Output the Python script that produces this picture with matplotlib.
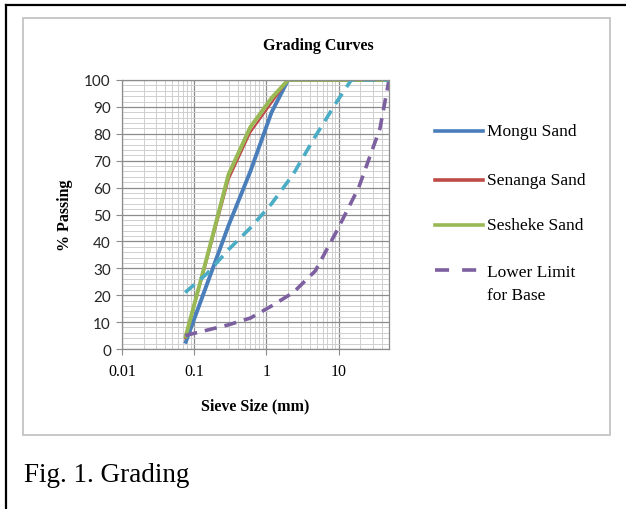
import matplotlib
matplotlib.use("Agg")
from matplotlib import pyplot as plt
from matplotlib.lines import Line2D
from matplotlib.patches import Rectangle
from matplotlib.ticker import LogLocator, MultipleLocator, FixedLocator
import numpy as np

# sieve sizes (mm) and % passing
sand_size = [0.075, 0.15, 0.3, 0.6, 1.18, 2.0, 5.0, 10.0, 20.0, 50.0]
mongu = [2, 24, 46, 66, 88, 100, 100, 100, 100, 100]
senanga = [4, 33, 63, 80.5, 91.5, 100, 100, 100, 100, 100]
sesheke = [4, 34, 65, 82.5, 93.3, 100, 100, 100, 100, 100]

limit_size = [0.075, 0.15, 0.3, 0.6, 1.18, 2.36, 4.75, 9.5, 19.0, 37.5, 50.0]
lower_limit = [5, 7, 9, 11.5, 16, 21, 29, 44, 60, 82, 100]

upper_size = [0.075, 0.15, 0.3, 0.6, 1.18, 2.36, 4.75, 9.5, 15.0, 50.0]
upper_limit = [21, 28, 37, 45, 54, 65, 79, 92, 100, 100]

x_ticks = [0.01, 0.1, 1, 10]
x_ticklabels = ['0.01', '0.1', '1', '10']
legend_labels = ['Mongu Sand', 'Senanga Sand', 'Sesheke Sand', 'Lower Limit\nfor Base']

W, H = 626, 510
blue, red, green, purple, cyan = '#4a7ebb', '#be4b48', '#98b954', '#7d60a0', '#4bacc6'
serif = 'Liberation Serif'


def fx(x):
    return x / W


def fy(y):
    return 1 - y / H


fig = plt.figure(figsize=(W / 100, H / 100), dpi=100)

# page frame and chart frame
fig.add_artist(Line2D([fx(6), fx(6)], [fy(6), 0], color='black', lw=1.6))
fig.add_artist(Line2D([fx(6), 1], [fy(6), fy(6)], color='black', lw=1.6))
fig.add_artist(Rectangle((fx(23), fy(436)), fx(610) - fx(23), fy(19) - fy(436),
                         fill=False, edgecolor='#c4c4c4', lw=1.3))

ax = fig.add_axes([fx(122), fy(350), fx(389) - fx(122), fy(81) - fy(350)])
ax.set_xscale('log')
ax.set_xlim(0.01, 50)
ax.set_ylim(0, 100)

l1, = ax.plot(sand_size, mongu, color=blue, lw=2.8, solid_capstyle='butt')
l2, = ax.plot(sand_size, senanga, color=red, lw=1.5)
l3, = ax.plot(sand_size, sesheke, color=green, lw=2.8, solid_capstyle='butt')
l4, = ax.plot(limit_size, lower_limit, color=purple, lw=2.6, dashes=(3.4, 2.2))
ax.plot(upper_size, upper_limit, color=cyan, lw=2.6, dashes=(3.4, 2.2))

ax.xaxis.set_major_locator(FixedLocator(x_ticks))
ax.xaxis.set_minor_locator(LogLocator(base=10, subs=np.arange(2, 10), numticks=20))
ax.set_xticklabels(x_ticklabels, fontfamily=serif, fontsize=11.5)
ax.yaxis.set_major_locator(MultipleLocator(10))
ax.yaxis.set_minor_locator(MultipleLocator(2))
for t in ax.get_yticklabels():
    t.set_fontfamily('Lato')
    t.set_fontsize(11)
    t.set_color('#262626')

ax.grid(which='major', color='#8c8c8c', lw=0.9)
ax.grid(which='minor', color='#cfcfcf', lw=0.7)
ax.set_axisbelow(True)
ax.tick_params(axis='x', which='major', length=4, color='#8c8c8c', pad=6)
ax.tick_params(axis='y', which='major', length=4, color='#8c8c8c', pad=4)
ax.tick_params(which='minor', length=0)
for s in ax.spines.values():
    s.set_color('#8c8c8c')
    s.set_linewidth(0.9)

ax.set_xlabel('Sieve Size (mm)', fontfamily=serif, fontsize=11.5, fontweight='bold', labelpad=13)
ax.set_ylabel('% Passing', fontfamily=serif, fontsize=11.5, fontweight='bold', labelpad=8)
fig.text(fx(318), fy(46), 'Grading Curves', fontfamily=serif, fontsize=11.5,
         fontweight='bold', ha='center', va='center')

# legend drawn by hand to match the Excel layout
leg_y = [132, 181, 226, 271]
for line, lab, y in zip([l1, l2, l3, l4], legend_labels, leg_y):
    kw = dict(color=line.get_color(), lw=2.6)
    if line is l4:
        kw['dashes'] = (3.9, 3.6)
    fig.add_artist(Line2D([fx(435), fx(483)], [fy(y), fy(y)], **kw))
    if '\n' in lab:
        fig.text(fx(487), fy(y - 6), lab, fontfamily=serif, fontsize=12.5,
                 ha='left', va='top', linespacing=1.55)
    else:
        fig.text(fx(487), fy(y), lab, fontfamily=serif, fontsize=12.5,
                 ha='left', va='center')

fig.text(fx(24), fy(476), 'Fig. 1. Grading', fontfamily=serif, fontsize=19.5,
         ha='left', va='center')

fig.savefig('out.png', dpi=100)
